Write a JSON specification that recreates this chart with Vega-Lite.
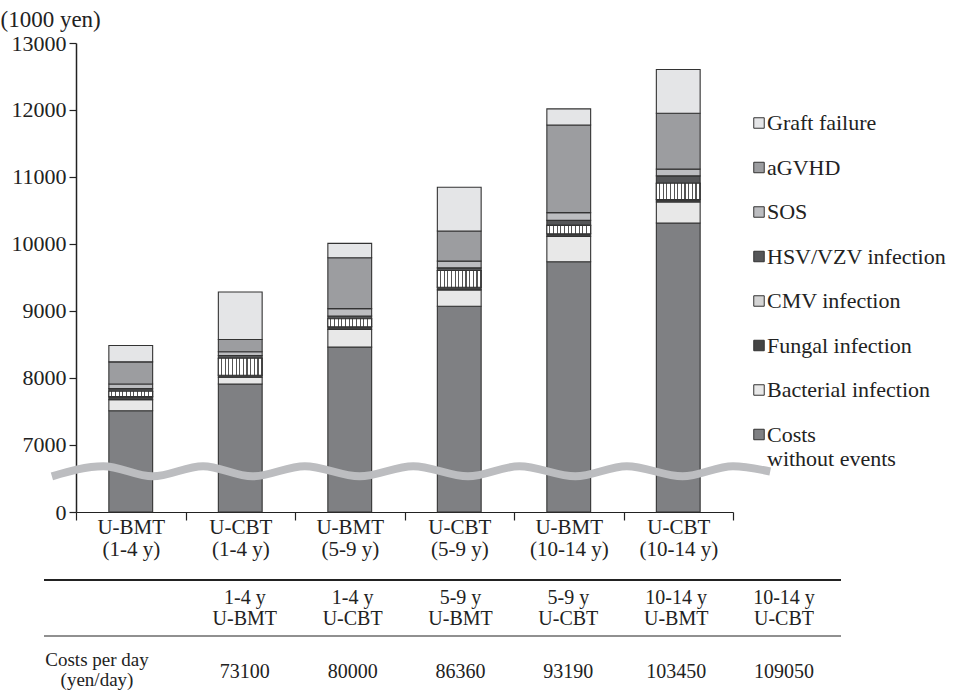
{
  "$schema": "https://vega.github.io/schema/vega-lite/v6.json",
  "width": 657,
  "height": 469,
  "autosize": {"type": "none"},
  "padding": {"left": 76, "top": 43, "right": 234, "bottom": 178},
  "background": "white",
  "config": {
    "view": {"stroke": null},
    "font": "'Liberation Serif', 'DejaVu Serif', serif",
    "text": {"font": "'Liberation Serif', 'DejaVu Serif', serif"},
    "axis": {"labelFont": "'Liberation Serif', 'DejaVu Serif', serif", "titleFont": "'Liberation Serif', 'DejaVu Serif', serif", "labelColor": "#222", "titleColor": "#222", "domainColor": "#222", "tickColor": "#222", "grid": false},
    "legend": {"labelFont": "'Liberation Serif', 'DejaVu Serif', serif"}
  },
  "datasets": {
    "bars": [
      {"grp": "U-BMT (1-4 y)", "category": "Costs without events", "k": 1, "cost": 7505},
      {"grp": "U-BMT (1-4 y)", "category": "Bacterial infection", "k": 2, "cost": 165},
      {"grp": "U-BMT (1-4 y)", "category": "Fungal infection", "k": 3, "cost": 45},
      {"grp": "U-BMT (1-4 y)", "category": "CMV infection", "k": 4, "cost": 80},
      {"grp": "U-BMT (1-4 y)", "category": "HSV/VZV infection", "k": 5, "cost": 40},
      {"grp": "U-BMT (1-4 y)", "category": "SOS", "k": 6, "cost": 70},
      {"grp": "U-BMT (1-4 y)", "category": "aGVHD", "k": 7, "cost": 330},
      {"grp": "U-BMT (1-4 y)", "category": "Graft failure", "k": 8, "cost": 245},
      {"grp": "U-CBT (1-4 y)", "category": "Costs without events", "k": 1, "cost": 7905},
      {"grp": "U-CBT (1-4 y)", "category": "Bacterial infection", "k": 2, "cost": 100},
      {"grp": "U-CBT (1-4 y)", "category": "Fungal infection", "k": 3, "cost": 30},
      {"grp": "U-CBT (1-4 y)", "category": "CMV infection", "k": 4, "cost": 255},
      {"grp": "U-CBT (1-4 y)", "category": "HSV/VZV infection", "k": 5, "cost": 40},
      {"grp": "U-CBT (1-4 y)", "category": "SOS", "k": 6, "cost": 55},
      {"grp": "U-CBT (1-4 y)", "category": "aGVHD", "k": 7, "cost": 185},
      {"grp": "U-CBT (1-4 y)", "category": "Graft failure", "k": 8, "cost": 710},
      {"grp": "U-BMT (5-9 y)", "category": "Costs without events", "k": 1, "cost": 8455},
      {"grp": "U-BMT (5-9 y)", "category": "Bacterial infection", "k": 2, "cost": 265},
      {"grp": "U-BMT (5-9 y)", "category": "Fungal infection", "k": 3, "cost": 40},
      {"grp": "U-BMT (5-9 y)", "category": "CMV infection", "k": 4, "cost": 120},
      {"grp": "U-BMT (5-9 y)", "category": "HSV/VZV infection", "k": 5, "cost": 40},
      {"grp": "U-BMT (5-9 y)", "category": "SOS", "k": 6, "cost": 110},
      {"grp": "U-BMT (5-9 y)", "category": "aGVHD", "k": 7, "cost": 760},
      {"grp": "U-BMT (5-9 y)", "category": "Graft failure", "k": 8, "cost": 215},
      {"grp": "U-CBT (5-9 y)", "category": "Costs without events", "k": 1, "cost": 9065},
      {"grp": "U-CBT (5-9 y)", "category": "Bacterial infection", "k": 2, "cost": 245},
      {"grp": "U-CBT (5-9 y)", "category": "Fungal infection", "k": 3, "cost": 40},
      {"grp": "U-CBT (5-9 y)", "category": "CMV infection", "k": 4, "cost": 250},
      {"grp": "U-CBT (5-9 y)", "category": "HSV/VZV infection", "k": 5, "cost": 40},
      {"grp": "U-CBT (5-9 y)", "category": "SOS", "k": 6, "cost": 100},
      {"grp": "U-CBT (5-9 y)", "category": "aGVHD", "k": 7, "cost": 450},
      {"grp": "U-CBT (5-9 y)", "category": "Graft failure", "k": 8, "cost": 655},
      {"grp": "U-BMT (10-14 y)", "category": "Costs without events", "k": 1, "cost": 9730},
      {"grp": "U-BMT (10-14 y)", "category": "Bacterial infection", "k": 2, "cost": 380},
      {"grp": "U-BMT (10-14 y)", "category": "Fungal infection", "k": 3, "cost": 40},
      {"grp": "U-BMT (10-14 y)", "category": "CMV infection", "k": 4, "cost": 125},
      {"grp": "U-BMT (10-14 y)", "category": "HSV/VZV infection", "k": 5, "cost": 75},
      {"grp": "U-BMT (10-14 y)", "category": "SOS", "k": 6, "cost": 115},
      {"grp": "U-BMT (10-14 y)", "category": "aGVHD", "k": 7, "cost": 1310},
      {"grp": "U-BMT (10-14 y)", "category": "Graft failure", "k": 8, "cost": 240},
      {"grp": "U-CBT (10-14 y)", "category": "Costs without events", "k": 1, "cost": 10310},
      {"grp": "U-CBT (10-14 y)", "category": "Bacterial infection", "k": 2, "cost": 315},
      {"grp": "U-CBT (10-14 y)", "category": "Fungal infection", "k": 3, "cost": 35},
      {"grp": "U-CBT (10-14 y)", "category": "CMV infection", "k": 4, "cost": 245},
      {"grp": "U-CBT (10-14 y)", "category": "HSV/VZV infection", "k": 5, "cost": 110},
      {"grp": "U-CBT (10-14 y)", "category": "SOS", "k": 6, "cost": 100},
      {"grp": "U-CBT (10-14 y)", "category": "aGVHD", "k": 7, "cost": 835},
      {"grp": "U-CBT (10-14 y)", "category": "Graft failure", "k": 8, "cost": 655}
    ],
    "wave": [
      {"u": -0.22, "v": 3700}, {"u": 0.25, "v": 4750}, {"u": 0.70, "v": 3700},
      {"u": 1.16, "v": 4750}, {"u": 1.61, "v": 3700}, {"u": 2.09, "v": 4750},
      {"u": 2.59, "v": 3700}, {"u": 3.08, "v": 4750}, {"u": 3.58, "v": 3700},
      {"u": 4.05, "v": 4750}, {"u": 4.56, "v": 3700}, {"u": 5.03, "v": 4750},
      {"u": 5.54, "v": 3700}, {"u": 6.00, "v": 4750}, {"u": 6.34, "v": 4200}
    ],
    "table": [
      {"col": "c1", "head": ["1-4 y", "U-BMT"], "val": "73100"},
      {"col": "c2", "head": ["1-4 y", "U-CBT"], "val": "80000"},
      {"col": "c3", "head": ["5-9 y", "U-BMT"], "val": "86360"},
      {"col": "c4", "head": ["5-9 y", "U-CBT"], "val": "93190"},
      {"col": "c5", "head": ["10-14 y", "U-BMT"], "val": "103450"},
      {"col": "c6", "head": ["10-14 y", "U-CBT"], "val": "109050"}
    ],
    "rowlabel": [{"text": ["Costs per day", "(yen/day)"]}],
    "lines": [{"line": "top"}, {"line": "mid"}]
  },
  "layer": [
    {
      "data": {"name": "bars"},
      "mark": {"type": "bar", "width": {"band": 0.4}, "stroke": "#333", "strokeWidth": 1.1},
      "encoding": {
        "x": {"field": "grp", "type": "nominal", "sort": null,
          "scale": {"paddingInner": 0, "paddingOuter": 0},
          "axis": {"title": null, "tickBand": "extent", "labelAngle": 0, "labelFontSize": 21, "labelLineHeight": 22, "tickSize": 8, "labelPadding": -4, "domainWidth": 1.2, "tickWidth": 1.2,
            "labelExpr": "[slice(datum.label, 0, indexof(datum.label, ' ')), slice(datum.label, indexof(datum.label, ' ') + 1)]"}},
        "y": {"field": "cost", "type": "quantitative", "stack": "zero",
          "scale": {"domain": [0, 7000, 13000], "range": [469, 401.5, 0], "nice": false, "zero": false},
          "axis": {"values": [0, 7000, 8000, 9000, 10000, 11000, 12000, 13000], "format": "d", "labelFontSize": 22, "tickSize": 7, "labelPadding": 3, "domainWidth": 1.5, "tickWidth": 1.2,
            "title": "(1000 yen)", "titleAngle": 0, "titleX": -76, "titleY": -17, "titleAlign": "left", "titleBaseline": "alphabetic", "titleFontSize": 23, "titleFontWeight": "normal"}},
        "color": {"field": "category", "type": "nominal",
          "scale": {"domain": ["Graft failure", "aGVHD", "SOS", "HSV/VZV infection", "CMV infection", "Fungal infection", "Bacterial infection", "Costs without events"],
            "range": ["#e4e5e7", "#9c9da0", "#bcbdc0", "#555658", "#d4d4d4", "#444444", "#e8e8e8", "#7f8083"]},
          "legend": {"orient": "none", "legendX": 672, "legendY": 69, "title": null, "symbolType": "square", "symbolSize": 110, "symbolStrokeColor": "#333", "symbolStrokeWidth": 1, "labelFontSize": 22, "labelColor": "#222", "labelOffset": -3, "rowPadding": 22.5, "padding": 0, "labelLimit": 300,
            "labelExpr": "datum.label === 'Costs without events' ? ['Costs', 'without events'] : datum.label"}},
        "order": {"field": "k", "type": "quantitative"}
      }
    },
    {
      "data": {"name": "bars"},
      "transform": [
        {"stack": "cost", "groupby": ["grp"], "sort": [{"field": "k"}], "as": ["y0", "y1"]},
        {"filter": "datum.category === 'CMV infection'"}
      ],
      "mark": {"type": "bar", "width": {"band": 0.4}, "stroke": "#333", "strokeWidth": 1.1,
        "fill": {"gradient": "linear", "x1": 0, "y1": 0, "x2": 1, "y2": 0, "stops": [
          {"offset": 0, "color": "#fff"}, {"offset": 0.0583, "color": "#fff"}, {"offset": 0.0583, "color": "#555"}, {"offset": 0.0833, "color": "#555"},
          {"offset": 0.0833, "color": "#fff"}, {"offset": 0.1417, "color": "#fff"}, {"offset": 0.1417, "color": "#555"}, {"offset": 0.1667, "color": "#555"},
          {"offset": 0.1667, "color": "#fff"}, {"offset": 0.225, "color": "#fff"}, {"offset": 0.225, "color": "#555"}, {"offset": 0.25, "color": "#555"},
          {"offset": 0.25, "color": "#fff"}, {"offset": 0.3083, "color": "#fff"}, {"offset": 0.3083, "color": "#555"}, {"offset": 0.3333, "color": "#555"},
          {"offset": 0.3333, "color": "#fff"}, {"offset": 0.3917, "color": "#fff"}, {"offset": 0.3917, "color": "#555"}, {"offset": 0.4167, "color": "#555"},
          {"offset": 0.4167, "color": "#fff"}, {"offset": 0.475, "color": "#fff"}, {"offset": 0.475, "color": "#555"}, {"offset": 0.5, "color": "#555"},
          {"offset": 0.5, "color": "#fff"}, {"offset": 0.5583, "color": "#fff"}, {"offset": 0.5583, "color": "#555"}, {"offset": 0.5833, "color": "#555"},
          {"offset": 0.5833, "color": "#fff"}, {"offset": 0.6417, "color": "#fff"}, {"offset": 0.6417, "color": "#555"}, {"offset": 0.6667, "color": "#555"},
          {"offset": 0.6667, "color": "#fff"}, {"offset": 0.725, "color": "#fff"}, {"offset": 0.725, "color": "#555"}, {"offset": 0.75, "color": "#555"},
          {"offset": 0.75, "color": "#fff"}, {"offset": 0.8083, "color": "#fff"}, {"offset": 0.8083, "color": "#555"}, {"offset": 0.8333, "color": "#555"},
          {"offset": 0.8333, "color": "#fff"}, {"offset": 0.8917, "color": "#fff"}, {"offset": 0.8917, "color": "#555"}, {"offset": 0.9167, "color": "#555"},
          {"offset": 0.9167, "color": "#fff"}, {"offset": 0.975, "color": "#fff"}, {"offset": 0.975, "color": "#555"}, {"offset": 1, "color": "#555"}
        ]}},
      "encoding": {
        "x": {"field": "grp", "type": "nominal", "sort": ["U-BMT (1-4 y)", "U-CBT (1-4 y)", "U-BMT (5-9 y)", "U-CBT (5-9 y)", "U-BMT (10-14 y)", "U-CBT (10-14 y)"],
          "scale": {"paddingInner": 0, "paddingOuter": 0}, "axis": null},
        "y": {"field": "y0", "type": "quantitative",
          "scale": {"domain": [0, 7000, 13000], "range": [469, 401.5, 0], "nice": false, "zero": false}, "axis": null},
        "y2": {"field": "y1"}
      }
    },
    {
      "data": {"name": "wave"},
      "mark": {"type": "line", "interpolate": "monotone", "stroke": "#bcbdc0", "strokeWidth": 8, "strokeCap": "butt"},
      "encoding": {
        "x": {"field": "u", "type": "quantitative", "scale": {"domain": [0, 6], "nice": false, "zero": false}, "axis": null},
        "y": {"field": "v", "type": "quantitative", "scale": {"domain": [0, 7000, 13000], "range": [469, 401.5, 0], "nice": false, "zero": false}, "axis": null}
      }
    },
    {
      "layer": [
        {
          "data": {"name": "table"},
          "mark": {"type": "text", "fontSize": 20, "lineHeight": 21, "baseline": "middle", "color": "#222"},
          "encoding": {
            "x": {"field": "col", "type": "ordinal", "scale": {"type": "point", "domain": ["label", "c1", "c2", "c3", "c4", "c5", "c6"], "range": [61, 708], "padding": 0}, "axis": null},
            "y": {"datum": "header", "type": "ordinal", "scale": {"type": "point", "domain": ["header", "value"], "range": [555, 629], "padding": 0}, "axis": null},
            "text": {"field": "head", "type": "nominal"}
          }
        },
        {
          "data": {"name": "table"},
          "mark": {"type": "text", "fontSize": 20, "baseline": "middle", "color": "#222"},
          "encoding": {
            "x": {"field": "col", "type": "ordinal", "scale": {"type": "point", "domain": ["label", "c1", "c2", "c3", "c4", "c5", "c6"], "range": [61, 708], "padding": 0}, "axis": null},
            "y": {"datum": "value", "type": "ordinal", "scale": {"type": "point", "domain": ["header", "value"], "range": [555, 629], "padding": 0}, "axis": null},
            "text": {"field": "val", "type": "nominal"}
          }
        },
        {
          "data": {"name": "rowlabel"},
          "mark": {"type": "text", "fontSize": 19, "lineHeight": 20, "baseline": "middle", "color": "#222", "dx": -40, "dy": -12},
          "encoding": {
            "x": {"datum": "label", "type": "ordinal", "scale": {"type": "point", "domain": ["label", "c1", "c2", "c3", "c4", "c5", "c6"], "range": [61, 708], "padding": 0}, "axis": null},
            "y": {"datum": "value", "type": "ordinal", "scale": {"type": "point", "domain": ["header", "value"], "range": [555, 629], "padding": 0}, "axis": null},
            "text": {"field": "text", "type": "nominal"}
          }
        }
      ]
    },
    {
      "data": {"name": "lines"},
      "mark": {"type": "rule", "color": "#222"},
      "encoding": {
        "y": {"field": "line", "type": "ordinal", "scale": {"type": "point", "domain": ["top", "mid"], "range": [537, 593], "padding": 0}, "axis": null},
        "x": {"datum": 0, "type": "quantitative", "scale": {"domain": [0, 1], "range": [-32, 765], "nice": false, "zero": false}, "axis": null},
        "x2": {"datum": 1},
        "strokeWidth": {"field": "line", "type": "ordinal", "scale": {"domain": ["top", "mid"], "range": [2.2, 1.2]}, "legend": null}
      }
    }
  ],
  "resolve": {"scale": {"x": "independent", "y": "independent"}}
}
